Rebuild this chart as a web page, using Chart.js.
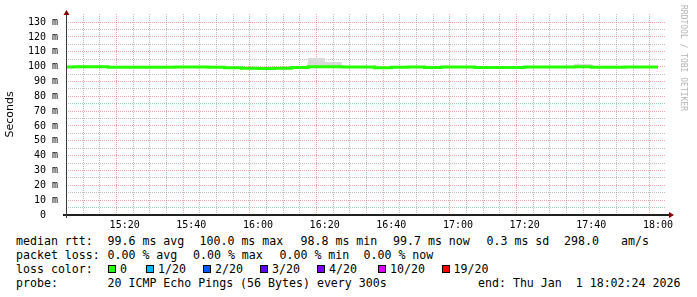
<!DOCTYPE html>
<html>
<head>
<meta charset="utf-8">
<script src="https://cdn.jsdelivr.net/npm/chart.js@4.4.1/dist/chart.umd.min.js"></script>
<style>
  html, body { margin: 0; padding: 0; background: #fff; overflow: hidden; }
  #wrap { position: relative; width: 697px; height: 297px; background: #fff; }
  #plot { position: absolute; left: 0; top: 0; width: 697px; height: 232px; }
  .t { position: absolute; font-family: 'DejaVu Sans Mono', monospace; font-size: 11.6px;
       line-height: 14px; color: #000; white-space: pre; }
  .box { position: absolute; width: 8px; height: 8px; box-sizing: border-box; border: 1px solid #000; }
</style>
</head>
<body>
<div id="wrap">
  <div id="plot"><canvas id="c"></canvas></div>
  <div id="legend"></div>
</div>
<script>
// start of each 5 minute step
var stepTimes = [
  '15:00', '15:05', '15:10', '15:15', '15:20', '15:25', '15:30', '15:35', '15:40',
  '15:45', '15:50', '15:55', '16:00', '16:05', '16:10', '16:15', '16:20', '16:25',
  '16:30', '16:35', '16:40', '16:45', '16:50', '16:55', '17:00', '17:05', '17:10',
  '17:15', '17:20', '17:25', '17:30', '17:35', '17:40', '17:45', '17:50', '17:55'
];
var lastStepEnd = '18:00';

// median rtt in ms
var medianRtt = [
  99.8, 100.0, 100.0, 99.55, 99.55, 99.55, 99.55, 99.85, 99.85,
  99.55, 99.2, 98.9, 98.8, 98.9, 99.4, 100.0, 100.0, 99.7,
  99.7, 99.25, 99.55, 99.7, 99.4, 99.7, 99.7, 99.4, 99.4,
  99.4, 99.7, 99.85, 99.85, 100.0, 99.55, 99.55, 99.85, 99.7
];

// smoke (spread of the pings) where it shows above the median line
var smokeTimes = ['16:15', '16:20', '17:35'];
var smokeLow = [99.6, 99.6, 99.6];
var smokeHigh = [105.7, 102.9, 101.7];

var rangeStart = '15:02:24';
var rangeEnd = '18:02:24';
var yMax = 135.5;

var yTickValues = [0, 5, 10, 15, 20, 25, 30, 35, 40, 45, 50, 55, 60, 65, 70, 75, 80, 85, 90, 95, 100, 105, 110, 115, 120, 125, 130];
var yTickLabels = ['0  ', '', '10 m', '', '20 m', '', '30 m', '', '40 m', '', '50 m', '', '60 m', '', '70 m', '',
  '80 m', '', '90 m', '', '100 m', '', '110 m', '', '120 m', '', '130 m'];
var xLabelTimes = ['15:20', '15:40', '16:00', '16:20', '16:40', '17:00', '17:20', '17:40', '18:00'];

var lossColors = ['#26ff00', '#00b8ff', '#0059ff', '#5e00ff', '#7e00ff', '#dd00ff', '#ff0000'];
var lossLabels = ['0', '1/20', '2/20', '3/20', '4/20', '10/20', '19/20'];

function toSec(s) {
  var p = s.split(':').map(Number);
  return p[0] * 3600 + p[1] * 60 + (p[2] || 0);
}
function fmtTime(sec) {
  var h = Math.floor(sec / 3600), m = Math.floor((sec % 3600) / 60);
  return (h < 10 ? '0' : '') + h + ':' + (m < 10 ? '0' : '') + m;
}

var xMin = toSec(rangeStart), xMax = toSec(rangeEnd);
var majorX = xLabelTimes.map(toSec);

var lineData = stepTimes.map(function (t, i) { return { x: toSec(t), y: medianRtt[i] }; });
lineData.push({ x: toSec(lastStepEnd), y: medianRtt[medianRtt.length - 1] });

var smokeData = smokeTimes.map(function (t, i) {
  return { x: toSec(t) + 150, y: [smokeLow[i], smokeHigh[i]] };
});

var xGridTimes = stepTimes.concat([lastStepEnd]).map(toSec).filter(function (v) { return v > xMin && v <= xMax; });

// axes lines with arrows + the rrdtool watermark
var rrdDecor = {
  id: 'rrdDecor',
  afterDraw: function (chart) {
    var ctx = chart.ctx, a = chart.chartArea;
    ctx.save();
    ctx.strokeStyle = '#1f1f1f';
    ctx.lineWidth = 2;
    ctx.beginPath();
    ctx.moveTo(a.left - 3, a.bottom);
    ctx.lineTo(a.right + 3, a.bottom);
    ctx.stroke();
    ctx.strokeStyle = '#3a3a3a';
    ctx.lineWidth = 1;
    ctx.beginPath();
    ctx.moveTo(a.left + 0.5, a.bottom + 3);
    ctx.lineTo(a.left + 0.5, a.top);
    ctx.stroke();

    ctx.fillStyle = '#800000';
    ctx.beginPath();
    ctx.moveTo(a.left + 0.5, a.top - 4);
    ctx.lineTo(a.left + 3.5, a.top + 1);
    ctx.lineTo(a.left - 2.5, a.top + 1);
    ctx.closePath();
    ctx.fill();
    ctx.beginPath();
    ctx.moveTo(a.right + 8, a.bottom);
    ctx.lineTo(a.right + 3, a.bottom - 3);
    ctx.lineTo(a.right + 3, a.bottom + 3);
    ctx.closePath();
    ctx.fill();

    ctx.translate(683, 5);
    ctx.rotate(Math.PI / 2);
    ctx.fillStyle = '#b4b4b4';
    ctx.font = '8px "DejaVu Sans Mono"';
    ctx.textAlign = 'left';
    ctx.textBaseline = 'middle';
    ctx.fillText('RRDTOOL / TOBI OETIKER', 0, 0);
    ctx.restore();
  }
};

var minorGrid = 'rgba(128,128,128,0.5)';
var majorGrid = 'rgba(235,110,110,0.6)';

function tickValue(c) {
  return c && c.tick ? c.tick.value : null;
}

var chart = new Chart(document.getElementById('c'), {
  type: 'line',
  data: {
    datasets: [
      {
        type: 'line',
        label: 'median rtt',
        data: lineData,
        stepped: true,
        borderColor: '#26ff00',
        borderWidth: 3,
        pointRadius: 0,
        fill: false,
        clip: 0,
        order: 0
      },
      {
        type: 'bar',
        label: 'smoke',
        data: smokeData,
        backgroundColor: '#dadada',
        borderWidth: 0,
        barPercentage: 1,
        categoryPercentage: 1,
        order: 1
      }
    ]
  },
  options: {
    responsive: true,
    maintainAspectRatio: false,
    animation: false,
    layout: { padding: { left: 0, right: 31, top: 12, bottom: 0 } },
    plugins: { legend: { display: false }, tooltip: { enabled: false } },
    scales: {
      x: {
        type: 'linear',
        min: xMin,
        max: xMax,
        offset: false,
        z: 1,
        afterBuildTicks: function (scale) {
          scale.ticks = xGridTimes.map(function (v) { return { value: v }; });
        },
        afterFit: function (scale) { scale.height = 17; },
        border: { display: false, dash: [1, 1] },
        grid: {
          drawTicks: false,
          color: function (c) { return majorX.indexOf(tickValue(c)) >= 0 ? majorGrid : minorGrid; },
          lineWidth: 1
        },
        ticks: {
          autoSkip: false,
          maxRotation: 0,
          padding: 4,
          color: '#000',
          font: { family: 'DejaVu Sans Mono', size: 10 },
          callback: function (v) { return majorX.indexOf(v) >= 0 ? fmtTime(v) : ''; }
        }
      },
      y: {
        type: 'linear',
        min: 0,
        max: yMax,
        z: 1,
        afterBuildTicks: function (scale) {
          scale.ticks = yTickValues.map(function (v) { return { value: v }; });
        },
        afterFit: function (scale) { scale.width = 66; },
        border: { display: false, dash: [1, 1] },
        grid: {
          drawTicks: false,
          color: function (c) {
            var v = tickValue(c);
            return v !== null && v % 10 === 0 ? majorGrid : minorGrid;
          },
          lineWidth: 1
        },
        ticks: {
          autoSkip: false,
          padding: 8,
          color: '#000',
          font: { family: 'DejaVu Sans Mono', size: 10 },
          callback: function (v) {
            var i = yTickValues.indexOf(v);
            return i >= 0 ? yTickLabels[i] : '';
          }
        },
        title: {
          display: true,
          text: 'Seconds',
          color: '#000',
          font: { family: 'DejaVu Sans', size: 11 }
        }
      }
    }
  },
  plugins: [rrdDecor]
});

// legend under the graph
var legend = document.getElementById('legend');
function addText(x, top, s) {
  var el = document.createElement('div');
  el.className = 't';
  el.style.left = x + 'px';
  el.style.top = top + 'px';
  el.textContent = s;
  legend.appendChild(el);
}
function addBox(x, top, color) {
  var el = document.createElement('div');
  el.className = 'box';
  el.style.left = x + 'px';
  el.style.top = top + 'px';
  el.style.background = color;
  legend.appendChild(el);
}

var row1 = 234, row2 = 248, row3 = 262, row4 = 276;
addText(16, row1, 'median rtt:');
addText(107.5, row1, '99.6 ms avg');
addText(199.5, row1, '100.0 ms max');
addText(300.5, row1, '98.8 ms min');
addText(393, row1, '99.7 ms now');
addText(486.5, row1, '0.3 ms sd');
addText(564, row1, '298.0');
addText(621, row1, 'am/s');

addText(16, row2, 'packet loss:');
addText(107.5, row2, '0.00 % avg');
addText(193, row2, '0.00 % max');
addText(279.5, row2, '0.00 % min');
addText(363.5, row2, '0.00 % now');

addText(16, row3, 'loss color:');
var boxX = [107.5, 145.5, 202.5, 259.5, 316.5, 377.5, 441.5];
var labX = [120, 158, 215, 272, 329, 390, 453.5];
lossColors.forEach(function (c, i) {
  addBox(boxX[i], row3 + 3, c);
  addText(labX[i], row3, lossLabels[i]);
});

addText(16, row4, 'probe:');
addText(107.5, row4, '20 ICMP Echo Pings (56 Bytes) every 300s');
addText(478, row4, 'end: Thu Jan  1 18:02:24 2026');
</script>
</body>
</html>
